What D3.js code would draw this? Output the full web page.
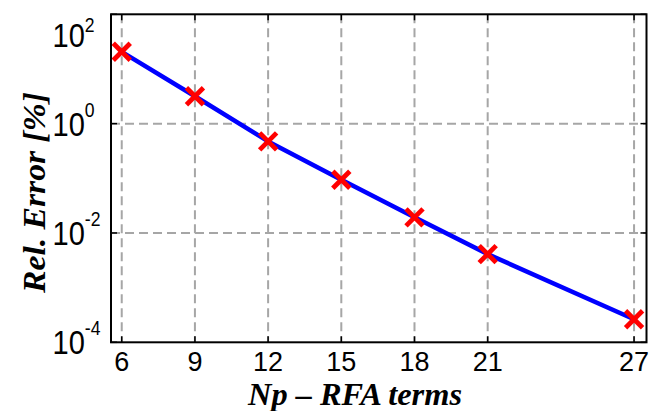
<!DOCTYPE html>
<html>
<head>
<meta charset="utf-8">
<script src="https://cdn.jsdelivr.net/npm/d3@7"></script>
<style>
  html, body { margin: 0; padding: 0; background: #fff; }
  svg { display: block; }
</style>
</head>
<body>
<svg id="chart" width="656" height="411"></svg>
<script>
const terms = [6, 9, 12, 15, 18, 21, 27];
const relError = [20.6, 3.17, 0.473, 0.094, 0.0193, 0.0041, 0.000264];
const xTicks = [6, 9, 12, 15, 18, 21, 27];
const yTicks = [1e2, 1e0, 1e-2, 1e-4];
const yTickExp = ["2", "0", "-2", "-4"];
const xLabel = "Np \u2013 RFA terms";
const yLabel = "Rel. Error [%]";

const svg = d3.select("#chart");
const L = 111, R = 646.5, T = 14.3, B = 342.3;

const x = d3.scaleLinear().domain([5.56, 27.51]).range([L, R]);
const y = d3.scaleLog().domain([1e-4, 1e2]).range([B, T]);

// grid
const grid = svg.append("g").attr("stroke", "#a6a6a6").attr("stroke-width", 2)
  .attr("stroke-dasharray", "9,5").attr("fill", "none");
grid.selectAll("line.v").data(xTicks).join("line").attr("class", "v")
  .attr("x1", d => x(d)).attr("x2", d => x(d)).attr("y1", T).attr("y2", B);
grid.selectAll("line.h").data(yTicks.slice(1, -1)).join("line").attr("class", "h")
  .attr("x1", L).attr("x2", R).attr("y1", d => y(d)).attr("y2", d => y(d));

// inward ticks
const ticks = svg.append("g").attr("stroke", "#000").attr("stroke-width", 1.5);
const tl = 6;
ticks.selectAll("line.yl").data(yTicks).join("line")
  .attr("x1", L).attr("x2", L + tl).attr("y1", d => y(d)).attr("y2", d => y(d));
ticks.selectAll("line.yr").data(yTicks).join("line")
  .attr("x1", R - tl).attr("x2", R).attr("y1", d => y(d)).attr("y2", d => y(d));
ticks.selectAll("line.xb").data(xTicks).join("line")
  .attr("x1", d => x(d)).attr("x2", d => x(d)).attr("y1", B - tl).attr("y2", B);
ticks.selectAll("line.xt").data(xTicks).join("line")
  .attr("x1", d => x(d)).attr("x2", d => x(d)).attr("y1", T).attr("y2", T + tl);

// line
const line = d3.line().x(d => x(d[0])).y(d => y(d[1]));
const pts = terms.map((t, i) => [t, relError[i]]);
svg.append("path").datum(pts).attr("d", line)
  .attr("fill", "none").attr("stroke", "#0000ff").attr("stroke-width", 4.5)
  .attr("stroke-linejoin", "round");

// markers
const m = 8.5;
const mk = svg.append("g").attr("stroke", "#ff0000").attr("stroke-width", 4.8).attr("stroke-linecap", "butt");
pts.forEach(p => {
  const cx = x(p[0]), cy = y(p[1]);
  mk.append("line").attr("x1", cx - m).attr("y1", cy - m).attr("x2", cx + m).attr("y2", cy + m);
  mk.append("line").attr("x1", cx - m).attr("y1", cy + m).attr("x2", cx + m).attr("y2", cy - m);
});

// box
svg.append("rect").attr("x", L).attr("y", T).attr("width", R - L).attr("height", B - T)
  .attr("fill", "none").attr("stroke", "#000").attr("stroke-width", 2);

// x tick labels
svg.append("g").selectAll("text").data(xTicks).join("text")
  .attr("x", d => x(d)).attr("y", 371)
  .attr("text-anchor", "middle")
  .attr("font-family", "Liberation Sans, Arial, sans-serif")
  .attr("font-size", 27).attr("fill", "#000")
  .text(d => d);

// y tick labels
const yl = svg.append("g").selectAll("text").data(yTicks).join("text")
  .attr("transform", d => `translate(52.5,${Math.max(y(d) + 12, 47)}) scale(0.88,1)`)
  .attr("font-family", "Liberation Sans, Arial, sans-serif")
  .attr("font-size", 33).attr("fill", "#000");
yl.append("tspan").text("10");
yl.append("tspan").attr("dy", (d, i) => i === 0 ? -15 : -19).attr("font-size", 20).text((d, i) => yTickExp[i]);

// axis labels
svg.append("text").attr("x", 355).attr("y", 405).attr("text-anchor", "middle")
  .attr("font-family", "Liberation Serif, Times New Roman, serif")
  .attr("font-weight", "bold").attr("font-style", "italic")
  .attr("font-size", 31).attr("fill", "#000")
  .attr("textLength", 214).attr("lengthAdjust", "spacingAndGlyphs")
  .text(xLabel);

svg.append("text").attr("transform", "translate(45,192.5) rotate(-90)")
  .attr("text-anchor", "middle")
  .attr("font-family", "Liberation Serif, Times New Roman, serif")
  .attr("font-weight", "bold").attr("font-style", "italic")
  .attr("font-size", 31).attr("fill", "#000")
  .attr("textLength", 201).attr("lengthAdjust", "spacingAndGlyphs")
  .text(yLabel);
</script>
</body>
</html>
